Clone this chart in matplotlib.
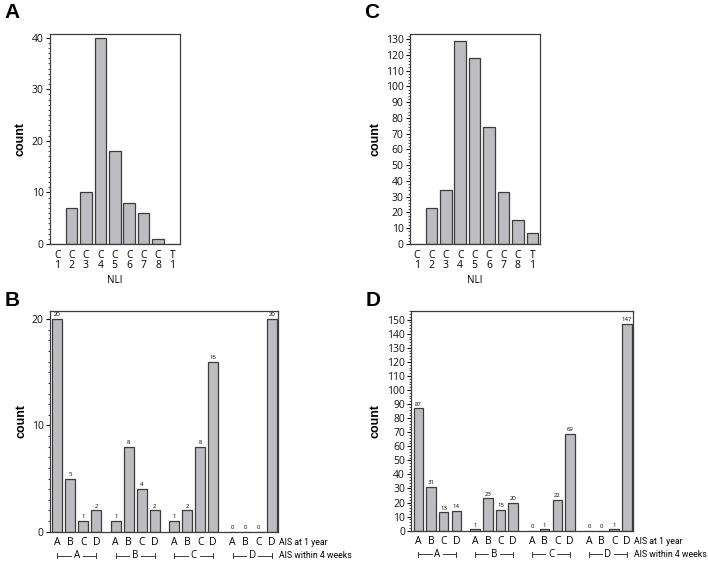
import numpy as np
import matplotlib
matplotlib.use("Agg")
from matplotlib import pyplot as plt
from matplotlib.ticker import MultipleLocator

# NLI distribution (panels A and C)
nli_labels = ["C\n1", "C\n2", "C\n3", "C\n4", "C\n5", "C\n6", "C\n7", "C\n8", "T\n1"]
nli_counts_a = [0, 7, 10, 40, 18, 8, 6, 1, 0]
nli_counts_c = [0, 23, 34, 129, 118, 74, 33, 15, 7]

# AIS conversion (panels B and D)
ais_grades = ["A", "B", "C", "D"]
ais_counts_b = [20, 5, 1, 2, 1, 8, 4, 2, 1, 2, 8, 16, 0, 0, 0, 20]
ais_counts_d = [87, 31, 13, 14, 1, 23, 15, 20, 0, 1, 22, 69, 0, 0, 1, 147]

BAR = "#bdbdc1"
EDGE = "#3c3c3c"
FONT = "Open Sans"
W = 708

plt.rcParams["font.family"] = [FONT, "DejaVu Sans"]

fig = plt.figure(figsize=(7.08, 5.62), dpi=100)


def style_axis(ax, ymax, major, minor, label_px):
    for s in ax.spines.values():
        s.set_color(EDGE)
        s.set_linewidth(0.9)
    ax.set_ylim(0, ymax)
    ax.yaxis.set_major_locator(MultipleLocator(major))
    ax.yaxis.set_minor_locator(MultipleLocator(minor))
    ax.tick_params(axis="y", which="major", length=3, width=0.8, labelsize=7.5, pad=1.5, colors="#111")
    ax.tick_params(axis="y", which="minor", length=1.5, width=0.6, colors="#333")
    ax.tick_params(axis="x", length=0, labelsize=7.5, pad=4)
    ax.set_ylabel("count", fontsize=9, fontweight="bold", family="Liberation Sans")
    # place the y label a fixed number of pixels left of the spine
    width_px = ax.get_position().width * W
    ax.yaxis.set_label_coords(-label_px / width_px, 0.5)


def nli_panel(rect, counts, ymax, major, minor, letter, label_px):
    ax = fig.add_axes(rect)
    x = np.arange(len(nli_labels))
    ax.bar(x, counts, width=0.8, color=BAR, edgecolor=EDGE, linewidth=0.9)
    ax.set_xlim(-0.5, len(nli_labels) - 0.47)
    ax.set_xticks(x)
    ax.set_xticklabels(nli_labels, linespacing=0.95)
    style_axis(ax, ymax, major, minor, label_px)
    ax.set_xlabel("NLI", fontsize=7, labelpad=3)
    fig.text(rect[0] - 0.064, 0.978, letter, fontsize=15, fontweight="bold",
             family="Liberation Sans", va="center")
    return ax


def ais_panel(rect, counts, ymax, major, minor, letter, label_px):
    ax = fig.add_axes(rect)
    x = np.array([g * 4.5 + i for g in range(4) for i in range(4)], dtype=float)
    ax.bar(x, counts, width=0.75, color=BAR, edgecolor=EDGE, linewidth=0.9)
    for xi, v in zip(x, counts):
        ax.text(xi, v + ymax * 0.008, str(v), ha="center", va="bottom", fontsize=4.3)
    ax.set_xlim(-0.56, x[-1] + 0.46)
    ax.set_xticks(x)
    ax.set_xticklabels(ais_grades * 4)
    style_axis(ax, ymax, major, minor, label_px)
    yb = -0.108
    ax.text(1.006, -0.047, "AIS at 1 year", transform=ax.transAxes, fontsize=6.3,
            va="center", family="Roboto")
    ax.text(1.006, yb, "AIS within 4 weeks", transform=ax.transAxes, fontsize=6.3,
            va="center", family="Roboto")
    tr = ax.get_xaxis_transform()
    for g, name in enumerate(ais_grades):
        x0 = g * 4.5
        mid = x0 + 1.5
        ax.plot([x0, mid - 0.45], [yb, yb], transform=tr, clip_on=False, color=EDGE, lw=0.7)
        ax.plot([mid + 0.45, x0 + 3], [yb, yb], transform=tr, clip_on=False, color=EDGE, lw=0.7)
        for xe in (x0, x0 + 3):
            ax.plot([xe, xe], [yb - 0.012, yb + 0.012], transform=tr, clip_on=False, color=EDGE, lw=0.7)
        ax.text(mid, yb, name, transform=tr, ha="center", va="center", fontsize=7)
    fig.text(rect[0] - 0.064, 0.466, letter, fontsize=15, fontweight="bold",
             family="Liberation Sans", va="center")
    return ax


nli_panel([0.0706, 0.5658, 0.1836, 0.3737], nli_counts_a, 40.7, 10, 1, "A", 23)
nli_panel([0.5787, 0.5658, 0.1840, 0.3737], nli_counts_c, 133.2, 10, 2, "C", 28.7)
ais_panel([0.0706, 0.0539, 0.3216, 0.3932], ais_counts_b, 20.8, 10, 1, "B", 22)
ais_panel([0.5809, 0.0557, 0.3127, 0.3915], ais_counts_d, 156.4, 10, 2, "D", 29.3)

fig.savefig("out.png", dpi=100)
